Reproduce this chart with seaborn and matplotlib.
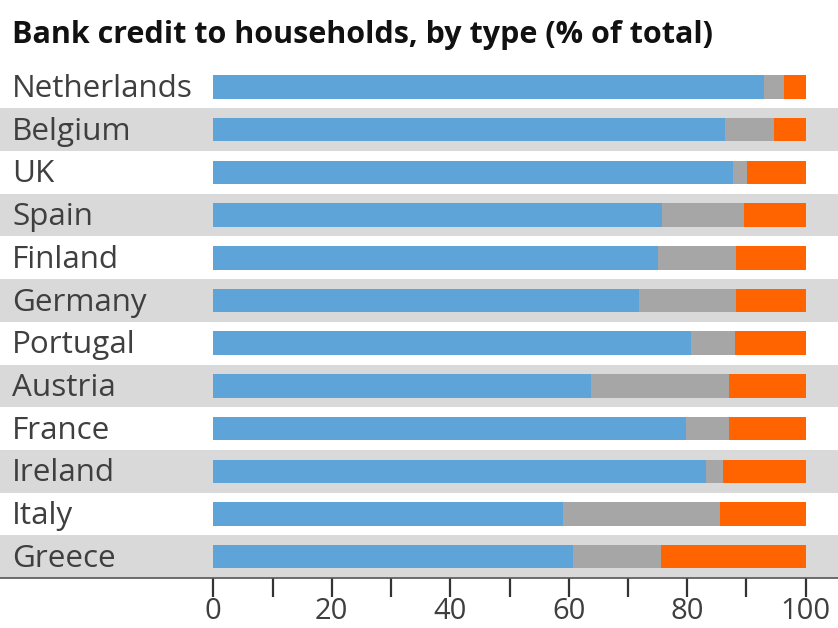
import matplotlib
matplotlib.use("Agg")
import matplotlib.pyplot as plt
from matplotlib.ticker import FixedLocator
from matplotlib.transforms import offset_copy
import seaborn as sns
import pandas as pd

countries = ["Netherlands", "Belgium", "UK", "Spain", "Finland", "Germany",
             "Portugal", "Austria", "France", "Ireland", "Italy", "Greece"]
housing = [93.0, 86.3, 87.8, 75.7, 75.1, 71.8, 80.7, 63.8, 79.8, 83.1, 59.0, 60.8]
consumer = [3.3, 8.4, 2.3, 13.9, 13.1, 16.4, 7.4, 23.3, 7.2, 2.9, 26.5, 14.7]
other = [3.7, 5.3, 9.9, 10.4, 11.8, 11.8, 11.9, 12.9, 13.0, 14.0, 14.5, 24.5]
x_ticks = [0, 20, 40, 60, 80, 100]
x_minor_ticks = [10, 30, 50, 70, 90]

title = "Bank credit to households, by type (% of total)"

BLUE = "#5ea4d9"
GREY = "#a6a6a6"
ORANGE = "#ff6400"
BAND = "#d9d9d9"
TEXT = "#3f3f3f"

df = pd.DataFrame({"country": countries, "housing": housing,
                   "consumer": consumer, "other": other})
df["c1"] = df["housing"]
df["c2"] = df["housing"] + df["consumer"]
df["c3"] = df["c2"] + df["other"]

sns.set_theme(style="white")
plt.rcParams["font.family"] = ["Open Sans", "DejaVu Sans"]

W, H = 838, 628
fig = plt.figure(figsize=(W / 100, H / 100), dpi=100)
ax_top = 65.7
ax_bottom = 578.0
ax = fig.add_axes([0, 1 - ax_bottom / H, 1, (ax_bottom - ax_top) / H])

# alternating row bands across the full width
for i in range(len(countries)):
    if i % 2 == 1:
        ax.axhspan(i - 0.5, i + 0.5, color=BAND, zorder=0, lw=0)

# stacked horizontal bars: draw cumulative totals back to front
for col, color in [("c3", ORANGE), ("c2", GREY), ("c1", BLUE)]:
    sns.barplot(data=df, x=col, y="country", orient="h", color=color,
                saturation=1, width=0.55, ax=ax, zorder=2, linewidth=0)

# horizontal scale: 0 at 213px, 100 at 806px
px_per_unit = (805.7 - 213.3) / 100
ax.set_xlim(-213.3 / px_per_unit, (W - 213.3) / px_per_unit)
ax.set_ylim(len(countries) - 0.5, -0.5)

ax.set_xticks(x_ticks)
ax.set_xticklabels([str(t) for t in x_ticks])
ax.xaxis.set_minor_locator(FixedLocator(x_minor_ticks))
ax.tick_params(axis="x", which="both", direction="out", length=14, width=1.6,
               color="#333333", bottom=True, pad=0)
ax.tick_params(axis="x", which="major", labelsize=21, labelcolor=TEXT)
ax.set_yticks([])
ax.set_xlabel("")
ax.set_ylabel("")

for s in ["top", "left", "right"]:
    ax.spines[s].set_visible(False)
ax.spines["bottom"].set_color("#555555")
ax.spines["bottom"].set_linewidth(1.2)
ax.spines["bottom"].set_zorder(3)

label_tf = offset_copy(ax.get_yaxis_transform(), fig=fig, x=0, y=-2, units="dots")
for i, name in enumerate(countries):
    ax.text(12 / W, i, name, transform=label_tf,
            ha="left", va="center", fontsize=22.6, color=TEXT)

fig.text(12 / W, 1 - 35 / H, title, ha="left", va="center",
         fontsize=22, fontweight="bold", color="#111111")

fig.savefig("out.png", dpi=100)
